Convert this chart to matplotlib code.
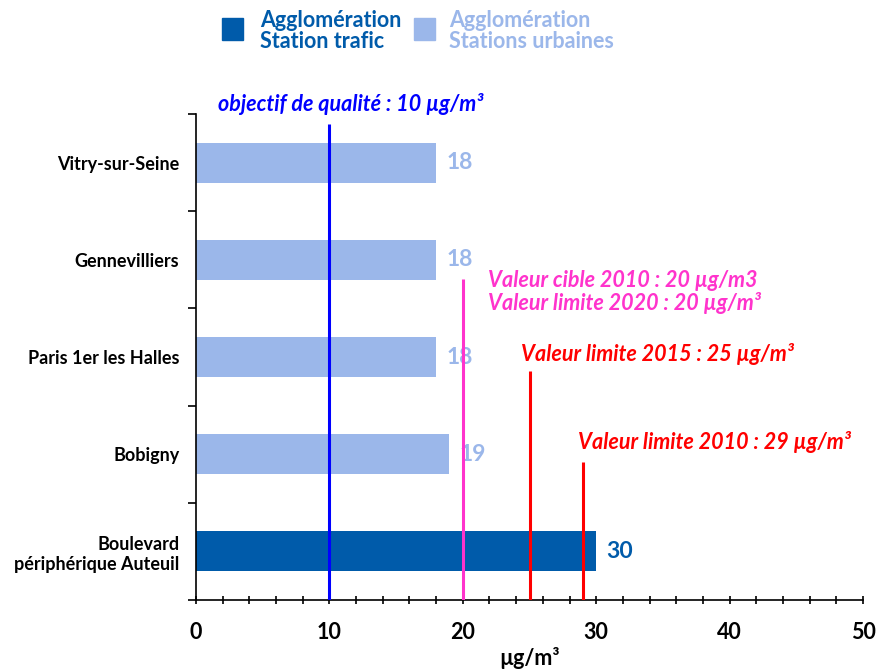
import matplotlib
matplotlib.use("Agg")
import matplotlib.pyplot as plt
from matplotlib.ticker import MultipleLocator
from matplotlib.patches import Rectangle

plt.rcParams['font.family'] = ['Lato', 'DejaVu Sans']

stations = ["Boulevard\npériphérique Auteuil", "Bobigny", "Paris 1er les Halles",
            "Gennevilliers", "Vitry-sur-Seine"]
values = [30, 19, 18, 18, 18]
kinds = ["trafic", "urbain", "urbain", "urbain", "urbain"]

dark = "#005BAA"
light = "#9BB7EA"
colors = [dark if k == "trafic" else light for k in kinds]

thresholds = [10, 20, 25, 29]
thr_colors = ["#0000FF", "#FF33CC", "#FF0000", "#FF0000"]
thr_tops = [4.40, 2.80, 1.86, 0.92]

fig = plt.figure(figsize=(8.77, 6.70), dpi=100)
ax = fig.add_axes([196/877, 70/670, (863-196)/877, (600-114)/670])

ypos = list(range(len(stations)))
ax.barh(ypos, values, height=0.41, color=colors, zorder=2)

for y, v, c in zip(ypos, values, colors):
    ax.text(v + 0.75, y, f"{v}", color=c, fontsize=16.5, fontweight='bold',
            va='center', ha='left', zorder=1)

for x, c, top in zip(thresholds, thr_colors, thr_tops):
    ax.plot([x, x], [-0.5, top], color=c, lw=2.2, zorder=3, solid_capstyle='butt')

ax.set_xlim(0, 50)
ax.set_ylim(-0.5, 4.5)
ax.xaxis.set_major_locator(MultipleLocator(10))
ax.xaxis.set_minor_locator(MultipleLocator(2))
ax.set_yticks([i + 0.5 for i in range(-1, 5)], minor=False)
ax.set_yticklabels([])
ax.set_yticks(ypos, minor=True)
ax.set_yticklabels(stations, minor=True, fontsize=13, fontweight='bold')
ax.tick_params(axis='y', which='minor', length=0, pad=12)
ax.tick_params(axis='y', which='major', length=6, width=1.2)
ax.tick_params(axis='x', which='both', length=6, width=1.2, direction='inout')
ax.tick_params(axis='x', which='major', labelsize=15.5, pad=13)
for lbl in ax.get_xticklabels():
    lbl.set_fontweight('bold')
for lbl in ax.get_yticklabels(minor=True):
    lbl.set_multialignment('right')
ax.spines['top'].set_visible(False)
ax.spines['right'].set_visible(False)
ax.spines['left'].set_linewidth(1.2)
ax.spines['bottom'].set_linewidth(1.2)
ax.set_xlabel("µg/m³", fontsize=15.5, fontweight='bold', labelpad=3)

kw = dict(fontsize=15.5, fontweight='bold', style='italic')
ax.text(1.65, 4.60, "objectif de qualité : 10 µg/m³", color="#0000FF", ha='left', va='center', **kw)
ax.text(21.9, 2.79, "Valeur cible 2010 : 20 µg/m3", color="#FF33CC", ha='left', va='center', **kw)
ax.text(21.9, 2.56, "Valeur limite 2020 : 20 µg/m³", color="#FF33CC", ha='left', va='center', **kw)
ax.text(24.4, 2.03, "Valeur limite 2015 : 25 µg/m³", color="#FF0000", ha='left', va='center', **kw)
ax.text(28.65, 1.13, "Valeur limite 2010 : 29 µg/m³", color="#FF0000", ha='left', va='center', **kw)

# legend
fig.patches.append(Rectangle((222/877, 1 - 40/670), 21/877, 22/670, transform=fig.transFigure,
                             color=dark, figure=fig))
fig.text(260/877, 1 - 31/670, "Agglomération\nStation trafic", color=dark, fontsize=15.5,
         fontweight='bold', va='center', ha='left', linespacing=1.05)
fig.patches.append(Rectangle((414/877, 1 - 40/670), 21/877, 22/670, transform=fig.transFigure,
                             color=light, figure=fig))
fig.text(449/877, 1 - 31/670, "Agglomération\nStations urbaines", color=light, fontsize=15.5,
         fontweight='bold', va='center', ha='left', linespacing=1.05)

fig.savefig("out.png", dpi=100)
